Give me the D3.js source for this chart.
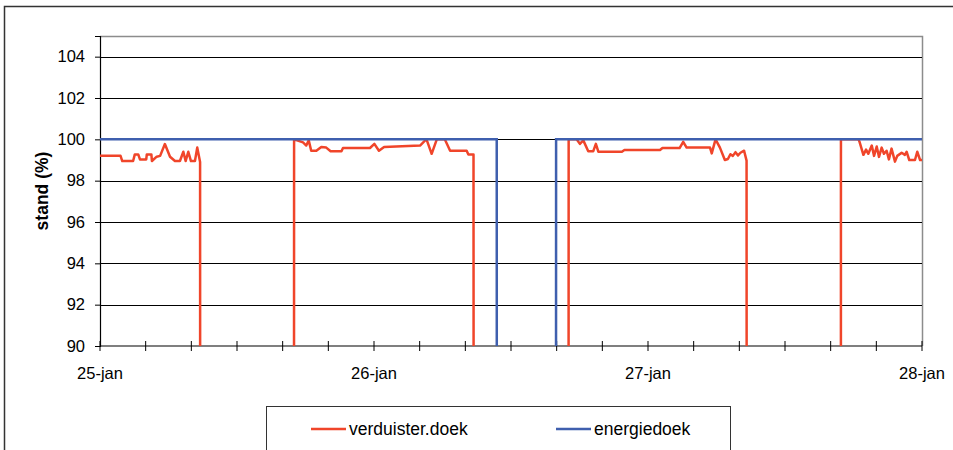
<!DOCTYPE html>
<html>
<head>
<meta charset="utf-8">
<script src="https://cdn.jsdelivr.net/npm/d3@7"></script>
<style>
  body { margin: 0; background: #fff; }
  svg { display: block; font-family: "Liberation Sans", Arial, sans-serif; }
</style>
</head>
<body>
<script>
// hours after 25-jan 00:00 and position (%) of the screens
var verduisterHours = [0, 1.8, 1.95, 2.9, 3.05, 3.35, 3.5, 4.05, 4.1, 4.5, 4.55, 4.97, 5.26, 5.69, 6.13, 6.57, 7.0, 7.3, 7.5, 7.74, 7.97, 8.32, 8.52, 8.76, 8.82,
    16.95, 17.0, 17.78, 18.07, 18.28, 18.5, 18.95, 19.38, 19.82, 20.2, 21.15, 21.28, 23.65, 24.04, 24.44, 24.88, 28.03, 28.4, 28.6, 29.05, 29.5, 30.2, 30.66, 32.12, 32.26, 32.71, 32.78,
    41.0, 41.05, 41.75, 42.04, 42.33, 42.77, 43.2, 43.44, 43.65, 45.72, 45.94, 49.05, 49.27, 50.76, 51.09, 51.39, 53.43, 53.58, 53.91, 54.3, 54.74, 55.0, 55.22, 55.44, 55.66, 55.88, 56.1, 56.41, 56.63, 56.7,
    64.86, 64.9, 66.44, 66.52, 66.86, 67.1, 67.3, 67.6, 67.8, 68.03, 68.23, 68.47, 68.67, 68.9, 69.1, 69.34, 69.63, 69.83, 70.22, 70.5, 70.65, 70.89, 71.39, 71.59, 71.83, 72];
var verduisterValues = [99.2, 99.2, 98.95, 98.95, 99.27, 99.27, 99.03, 99.03, 99.27, 99.27, 98.95, 99.16, 99.2, 99.77, 99.16, 98.95, 98.95, 99.4, 98.95, 99.4, 98.95, 98.95, 99.6, 98.9, 0,
    0, 100, 99.85, 99.7, 99.95, 99.45, 99.45, 99.63, 99.6, 99.42, 99.42, 99.58, 99.58, 99.78, 99.45, 99.63, 99.7, 99.9, 100, 99.3, 100, 100, 99.45, 99.45, 99.27, 99.27, 0,
    0, 100, 100, 99.78, 99.95, 99.42, 99.42, 99.78, 99.4, 99.4, 99.48, 99.48, 99.58, 99.58, 99.88, 99.6, 99.6, 99.32, 100, 99.6, 99.0, 99.05, 99.28, 99.2, 99.38, 99.22, 99.35, 99.45, 98.97, 0,
    0, 100, 100, 99.9, 99.25, 99.5, 99.3, 99.7, 99.2, 99.65, 99.15, 99.6, 99.3, 99.45, 99.03, 99.55, 98.92, 99.2, 99.35, 99.25, 99.4, 99.0, 99.0, 99.4, 99.0, 99.0];
var energieHours = [0, 34.75, 34.8, 39.9, 39.95, 72];
var energieValues = [100, 100, 0, 0, 100, 100];

var yTicks = [90, 92, 94, 96, 98, 100, 102, 104];
var dayLabels = ["25-jan", "26-jan", "27-jan", "28-jan"];
var seriesNames = ["verduister.doek", "energiedoek"];

var colors = { verduister: "#f0452a", energie: "#3f5fae" };

var width = 953, height = 450;
var margin = { left: 100, top: 36, right: 31, bottom: 104 };
var plotW = width - margin.left - margin.right;
var plotH = height - margin.top - margin.bottom;

var start = new Date(2008, 0, 25);
function toDate(h) { return d3.timeMinute.offset(start, Math.round(h * 60)); }

var x = d3.scaleTime().domain([start, d3.timeDay.offset(start, 3)]).range([0, plotW]);
var y = d3.scaleLinear().domain([90, 105]).range([plotH, 0]);

var svg = d3.select("body").append("svg")
    .attr("width", width)
    .attr("height", height);

// outer frame
svg.append("rect")
    .attr("x", 4.5).attr("y", 6.5)
    .attr("width", width).attr("height", height)
    .attr("fill", "none").attr("stroke", "#333").attr("stroke-width", 1.5);

var g = svg.append("g").attr("transform", "translate(" + margin.left + "," + margin.top + ")");

g.append("clipPath").attr("id", "plotclip")
    .append("rect").attr("x", -2).attr("y", 0).attr("width", plotW + 4).attr("height", plotH);

// plot border (top / right)
g.append("path")
    .attr("d", "M0,0.5H" + (plotW + 0.5) + "V" + plotH)
    .attr("fill", "none").attr("stroke", "#8c8c8c").attr("stroke-width", 1.5);

// gridlines
g.selectAll(".grid").data(yTicks.filter(function (d) { return d > 90; }))
    .enter().append("line")
    .attr("x1", 0).attr("x2", plotW)
    .attr("y1", function (d) { return Math.round(y(d)) + 0.5; })
    .attr("y2", function (d) { return Math.round(y(d)) + 0.5; })
    .attr("stroke", "#000").attr("stroke-width", 1);

// y axis
var yAxis = d3.axisLeft(y).tickValues(yTicks).tickSize(5).tickPadding(10);
var yg = g.append("g").call(yAxis);
yg.select(".domain").attr("stroke", "#000").attr("stroke-width", 1.2);
yg.selectAll(".tick line").attr("stroke", "#000");
yg.selectAll("text").attr("font-size", 16.5).attr("fill", "#000")
    .attr("font-family", "'Liberation Sans', Arial, sans-serif");

// x axis: ticks every 4 hours, labels each day
var xTickDates = d3.timeHour.every(4).range(start, d3.timeHour.offset(start, 73));
var xg = g.append("g").attr("transform", "translate(0," + plotH + ")");
xg.append("line").attr("x1", 0).attr("x2", plotW).attr("y1", 0).attr("y2", 0)
    .attr("stroke", "#000").attr("stroke-width", 1.2);
xg.selectAll(".xtick").data(xTickDates).enter().append("line")
    .attr("x1", function (d) { return x(d); }).attr("x2", function (d) { return x(d); })
    .attr("y1", -5).attr("y2", 5)
    .attr("stroke", "#000").attr("stroke-width", 1);
xg.selectAll(".xlab").data(dayLabels).enter().append("text")
    .attr("x", function (d, i) { return x(d3.timeDay.offset(start, i)); })
    .attr("y", 33)
    .attr("text-anchor", "middle")
    .attr("font-size", 16.5)
    .text(function (d) { return d; });

// series
var line = d3.line()
    .x(function (d) { return x(toDate(d[0])); })
    .y(function (d) { return y(d[1]); });

var lines = g.append("g").attr("clip-path", "url(#plotclip)");
lines.append("path")
    .datum(d3.zip(verduisterHours, verduisterValues))
    .attr("d", line)
    .attr("fill", "none").attr("stroke", colors.verduister).attr("stroke-width", 2.5)
    .attr("stroke-linejoin", "round");
lines.append("path")
    .datum(d3.zip(energieHours, energieValues))
    .attr("d", line)
    .attr("fill", "none").attr("stroke", colors.energie).attr("stroke-width", 2.5);

// axis title
svg.append("text")
    .attr("transform", "translate(48," + (margin.top + plotH / 2) + ") rotate(-90)")
    .attr("text-anchor", "middle")
    .attr("font-size", 17.5).attr("font-weight", "bold")
    .text("stand (%)");

// legend
var legend = svg.append("g");
legend.append("rect")
    .attr("x", 266.5).attr("y", 406.5).attr("width", 464).attr("height", 80)
    .attr("fill", "#fff").attr("stroke", "#333").attr("stroke-width", 1);
var legendItems = [
    { name: seriesNames[0], color: colors.verduister, x: 311 },
    { name: seriesNames[1], color: colors.energie, x: 556 }
];
var li = legend.selectAll(".item").data(legendItems).enter().append("g");
li.append("line")
    .attr("x1", function (d) { return d.x; }).attr("x2", function (d) { return d.x + 35; })
    .attr("y1", 429).attr("y2", 429)
    .attr("stroke", function (d) { return d.color; }).attr("stroke-width", 2.5);
li.append("text")
    .attr("x", function (d) { return d.x + 38; }).attr("y", 435)
    .attr("font-size", 17.5)
    .text(function (d) { return d.name; });
</script>
</body>
</html>
